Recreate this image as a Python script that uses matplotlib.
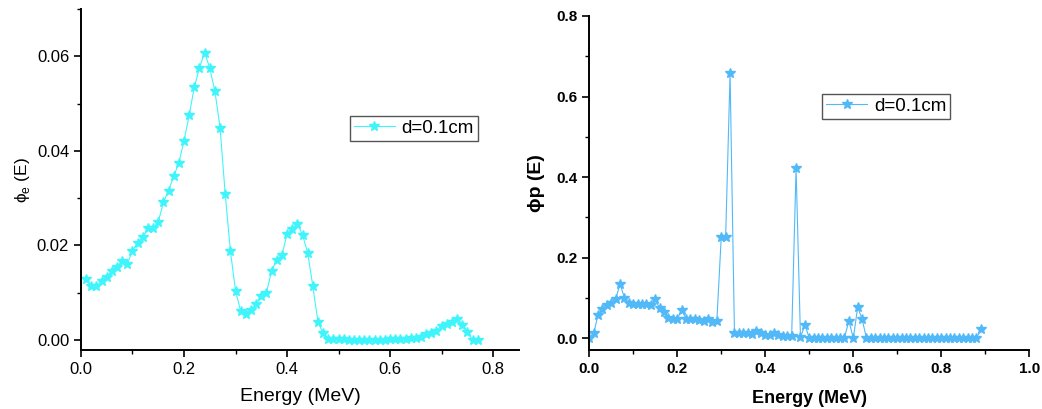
import numpy as np
import matplotlib
matplotlib.use("Agg")
from matplotlib import pyplot as plt
from matplotlib.ticker import MultipleLocator

plt.rcParams['font.family'] = ['Liberation Sans', 'DejaVu Sans']

# electron spectrum, d = 0.1 cm
energy_e = [0.01, 0.02, 0.03, 0.04, 0.05, 0.06, 0.07, 0.08, 0.09, 0.10,
            0.11, 0.12, 0.13, 0.14, 0.15, 0.16, 0.17, 0.18, 0.19, 0.20,
            0.21, 0.22, 0.23, 0.24, 0.25, 0.26, 0.27, 0.28, 0.29, 0.30,
            0.31, 0.32, 0.33, 0.34, 0.35, 0.36, 0.37, 0.38, 0.39, 0.40,
            0.41, 0.42, 0.43, 0.44, 0.45, 0.46, 0.47, 0.48, 0.49, 0.50,
            0.51, 0.52, 0.53, 0.54, 0.55, 0.56, 0.57, 0.58, 0.59, 0.60,
            0.61, 0.62, 0.63, 0.64, 0.65, 0.66, 0.67, 0.68, 0.69, 0.70,
            0.71, 0.72, 0.73, 0.74, 0.75, 0.76, 0.77]
phi_e = [0.0130, 0.0114, 0.0114, 0.0125, 0.0134, 0.0146, 0.0155, 0.0167, 0.0161, 0.0189,
         0.0206, 0.0218, 0.0236, 0.0236, 0.0250, 0.0291, 0.0316, 0.0346, 0.0375, 0.0421,
         0.0475, 0.0535, 0.0576, 0.0608, 0.0575, 0.0526, 0.0449, 0.0308, 0.0189, 0.0104,
         0.0061, 0.0055, 0.0063, 0.0076, 0.0093, 0.0100, 0.0146, 0.0170, 0.0179, 0.0224,
         0.0234, 0.0246, 0.0222, 0.0185, 0.0114, 0.0038, 0.0014, 0.0003, 0.0002, 0.0002,
         0.0002, 0.0001, 0.0001, 0.0001, 0.0000, 0.0000, 0.0000, 0.0001, 0.0001, 0.0002,
         0.0002, 0.0003, 0.0003, 0.0004, 0.0004, 0.0007, 0.0013, 0.0015, 0.0020, 0.0030,
         0.0034, 0.0039, 0.0044, 0.0032, 0.0017, 0.0001, 0.0000]

# photon spectrum, d = 0.1 cm
energy_p = [round(0.01 * i, 2) for i in range(90)]
phi_p = [0.000, 0.012, 0.058, 0.072, 0.083, 0.087, 0.098, 0.134, 0.101, 0.087,
         0.085, 0.085, 0.085, 0.084, 0.083, 0.097, 0.074, 0.066, 0.051, 0.048,
         0.048, 0.070, 0.048, 0.048, 0.047, 0.045, 0.044, 0.047, 0.040, 0.044,
         0.252, 0.252, 0.658, 0.012, 0.012, 0.012, 0.012, 0.011, 0.017, 0.012,
         0.008, 0.008, 0.012, 0.007, 0.006, 0.006, 0.006, 0.422, 0.002, 0.033,
         0.001, 0.001, 0.001, 0.001, 0.001, 0.001, 0.001, 0.001, 0.001, 0.044,
         0.000, 0.077, 0.048, 0.000, 0.000, 0.000, 0.000, 0.000, 0.000, 0.000,
         0.000, 0.000, 0.000, 0.000, 0.000, 0.000, 0.000, 0.000, 0.000, 0.000,
         0.000, 0.000, 0.000, 0.000, 0.000, 0.000, 0.000, 0.000, 0.000, 0.023]

fig = plt.figure(figsize=(10.42, 4.09), dpi=100)
ax1 = fig.add_axes([0.0777, 0.1443, 0.4203, 0.8337])
ax2 = fig.add_axes([0.5655, 0.1443, 0.4223, 0.8166])


def style_axes(ax, bold):
    for side in ('top', 'right'):
        ax.spines[side].set_visible(False)
    for side in ('left', 'bottom'):
        ax.spines[side].set_linewidth(1.4)
    ax.tick_params(which='major', direction='out', length=5, width=1.2)
    ax.tick_params(which='minor', direction='out', length=3, width=1.0)
    if bold:
        for lab in ax.get_xticklabels() + ax.get_yticklabels():
            lab.set_fontweight('bold')


def add_legend(ax, x, y):
    leg = ax.legend(loc='upper left', bbox_to_anchor=(x, y), fontsize=13.5,
                    fancybox=False, edgecolor='#555555', framealpha=1,
                    handlelength=2.2, borderpad=0.2, handletextpad=0.35,
                    borderaxespad=0)
    leg.get_frame().set_linewidth(1.0)


ax1.plot(energy_e, phi_e, color='#3ff5fb', lw=0.8, marker='*', ms=7.5,
         mec='#3ff5fb', mfc='#3ff5fb', label='d=0.1cm')
ax1.set_xlim(0, 0.85)
ax1.set_ylim(-0.0021, 0.07)
ax1.xaxis.set_minor_locator(MultipleLocator(0.1))
ax1.yaxis.set_minor_locator(MultipleLocator(0.01))
ax1.set_yticks([0.0, 0.02, 0.04, 0.06])
ax1.set_yticklabels(['0.00', '0.02', '0.04', '0.06'])
ax1.set_xticks([0.0, 0.2, 0.4, 0.6, 0.8])
ax1.set_xticklabels(['0.0', '0.2', '0.4', '0.6', '0.8'])
ax1.tick_params(labelsize=12)
ax1.set_xlabel('Energy (MeV)', fontsize=14, labelpad=8)
ax1.set_ylabel('\u03d5$_\\mathregular{e}$ (E)', fontsize=12.5)
ax1.yaxis.set_label_coords(-0.112, 0.5)
style_axes(ax1, False)
add_legend(ax1, 0.614, 0.686)

ax2.plot(energy_p, phi_p, color='#52b9f9', lw=0.8, marker='*', ms=7.5,
         mec='#52b9f9', mfc='#52b9f9', label='d=0.1cm')
ax2.set_xlim(0, 1.0)
ax2.set_ylim(-0.029, 0.8)
ax2.set_xticks([0.0, 0.2, 0.4, 0.6, 0.8, 1.0])
ax2.set_xticklabels(['0.0', '0.2', '0.4', '0.6', '0.8', '1.0'])
ax2.xaxis.set_minor_locator(MultipleLocator(0.1))
ax2.set_yticks([0.0, 0.2, 0.4, 0.6, 0.8])
ax2.set_yticklabels(['0.0', '0.2', '0.4', '0.6', '0.8'])
ax2.yaxis.set_minor_locator(MultipleLocator(0.1))
ax2.tick_params(labelsize=11)
ax2.set_xlabel('Energy (MeV)', fontsize=13, fontweight='bold', labelpad=10)
ax2.set_ylabel('\u03d5p (E)', fontsize=14, fontweight='bold')
ax2.yaxis.set_label_coords(-0.100, 0.5)
style_axes(ax2, True)
add_legend(ax2, 0.53, 0.766)

fig.savefig('out.png', dpi=100)
